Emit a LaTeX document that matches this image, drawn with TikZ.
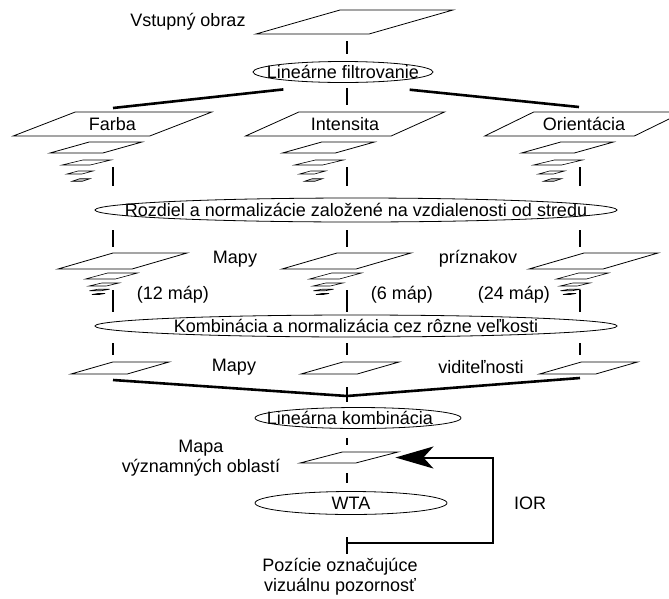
\documentclass[tikz,border=0pt]{standalone}
\usepackage{fontspec}
\setmainfont{Liberation Sans}
\usetikzlibrary{positioning,arrows.meta,shapes.geometric}

\tikzset{
  sheet/.code={\pgfmathsetmacro\sheetright{180-#1}%
    \tikzset{trapezium,draw,line width=0.8pt,inner sep=0.2pt,trapezium stretches=true,
      trapezium left angle=#1,trapezium right angle=\sheetright}},
  sheet/.default=19,
  small/.style={line width=0.6pt},
  grayfill/.style={small,fill=gray!45},
  oval/.style={ellipse,draw,line width=0.8pt,inner sep=0pt},
  link/.style={line width=2pt,shorten <=7pt,shorten >=7pt},
  merge/.style={line width=2.6pt},
  fb/.style={line width=2pt,-{Stealth[length=38pt,width=22pt,inset=10pt]}}
}

\begin{document}
\begin{tikzpicture}[x=1pt,y=-1pt,font=\fontsize{18}{20}\selectfont]
\useasboundingbox (0,0) rectangle (669,598);
\coordinate (cF) at (113,0);
\coordinate (cI) at (347,0);
\coordinate (cO) at (580,0);

% input and filtering
\node[sheet,minimum width=197pt,minimum height=24pt] (vstup) at (354.5,22) {};
\node (vstupL) at (188,22) {Vstupný obraz};
\node[oval,minimum width=180pt,minimum height=21pt,label=center:{Lineárne filtrovanie}] (filt) at (343,72) {};
\draw[link] (vstup.south -| cI) -- (filt.north -| cI);

% first pyramids
\node[sheet,minimum width=199pt,minimum height=24pt] (farba) at (112.5,124) {Farba};
\node[sheet,minimum width=199pt,minimum height=24pt] (inten) at (345,124) {Intensita};
\node[sheet,minimum width=199pt,minimum height=24pt] (orient) at (584,124) {Orientácia};
\foreach \n/\x in {F/112.5,I/345,O/584}{
  \node[sheet,minimum width=92pt,minimum height=11pt] (s1b\n) at (\x-16.5,147.5) {};
  \node[sheet,small,minimum width=49pt,minimum height=5pt] (s1c\n) at (\x-26,162.5) {};
  \node[sheet,small,minimum width=26pt,minimum height=3pt] (s1d\n) at (\x-32.5,172.5) {};
  \node[sheet,grayfill,minimum width=18pt,minimum height=2.5pt] (s1e\n) at (\x-31.5,180) {};
}
\coordinate (brL) at (113,108);
\coordinate (brR) at (579,107);
\draw[merge,shorten <=60pt] (filt.south) -- (brL);
\draw[merge,shorten <=67pt] (filt.south) -- (brR);
\draw[link,shorten <=5pt] (filt.south -| cI) -- (inten.north -| cI);

% center-surround
\node[oval,minimum width=522pt,minimum height=24pt,label=center:{Rozdiel a normalizácie založené na vzdialenosti od stredu}] (rozd) at (356,210) {};
\foreach \c in {cF,cI,cO}
  \draw[link,shorten <=31pt,shorten >=12pt] (\c |- farba.south) -- (\c |- rozd.north);

% feature maps
\foreach \n/\x in {F/122.5,I/346.5,O/593.5}{
  \node[sheet,minimum width=129pt,minimum height=16pt] (s2a\n) at (\x,261) {};
  \node[sheet,small,minimum width=52pt,minimum height=6pt] (s2b\n) at (\x-11,276) {};
  \node[sheet,small,minimum width=30pt,minimum height=3pt] (s2c\n) at (\x-18.5,284.5) {};
  \node[sheet,small,minimum width=20pt,minimum height=1.5pt] (s2d\n) at (\x-23,290) {};
  \node[sheet,grayfill,minimum width=13pt,minimum height=1pt] (s2e\n) at (\x-24,294) {};
}
\node (mapy1) at (235,259) {Mapy};
\node (prizn) at (478,259) {príznakov};
\node (n12) at (173,295) {(12 máp)};
\node (n6) at (402,295) {(6 máp)};
\node (n24) at (514,295) {(24 máp)};
\foreach \c in {cF,cI,cO}
  \draw[link,shorten <=8pt,shorten >=6pt] (\c |- rozd.south) -- (\c |- s2aF.north);

% across scales
\node[oval,minimum width=522pt,minimum height=22pt,label=center:{Kombinácia a normalizácia cez rôzne veľkosti}] (komb) at (356,326) {};

% conspicuity maps
\node[sheet,minimum width=98pt,minimum height=12pt] (vidF) at (120,368) {};
\node[sheet,minimum width=98pt,minimum height=12pt] (vidI) at (350,368) {};
\node[sheet,minimum width=98pt,minimum height=12pt] (vidO) at (588.5,368) {};
\node (mapy2) at (234,367) {Mapy};
\node (vidit) at (481,367) {viditeľnosti};
\foreach \c in {cF,cI,cO}{
  \draw[link,shorten <=21pt,shorten >=3pt] (\c |- s2aF.south) -- (\c |- komb.north);
  \draw[link,shorten <=6pt,shorten >=7pt] (\c |- komb.south) -- (\c |- vidF.north);
}
\coordinate (mL) at (113,380);
\coordinate (mR) at (580,378);
\coordinate (join) at (347,396);
\draw[merge] (mL) -- (join) -- (mR);

% saliency and WTA
\node[oval,minimum width=206pt,minimum height=21pt,label={[xshift=-8pt]center:Lineárna kombinácia}] (lk) at (358,418) {};
\draw[merge,shorten <=13pt,shorten >=5pt] (vidI.south -| join) -- (lk.north -| join);
\node[sheet=17.5,minimum width=98pt,minimum height=11pt] (mapa) at (349,457.5) {};
\node[align=center] (mapaL) at (201,458) {Mapa\\významných oblastí};
\draw[link,shorten <=9pt] (lk.south -| cI) -- (mapa.north -| cI);
\node[oval,minimum width=192pt,minimum height=23pt,label=center:WTA] (wta) at (351,503) {};
\draw[link,shorten <=10pt,shorten >=8.5pt] (mapa.south -| cI) -- (wta.north -| cI);
\node[align=center] (out) at (340,577) {Pozície označujúce\\vizuálnu pozornosť};
\draw[link,shorten <=22.5pt,shorten >=1pt] (wta.south -| cI) -- (out.north -| cI);

% inhibition of return
\coordinate (tap) at (347,543);
\coordinate (turn) at (493,457.5);
\draw[fb,shorten >=17pt] (tap) -| (turn) -- (mapa.east);
\node (ior) at (530,503) {IOR};
\end{tikzpicture}
\end{document}
